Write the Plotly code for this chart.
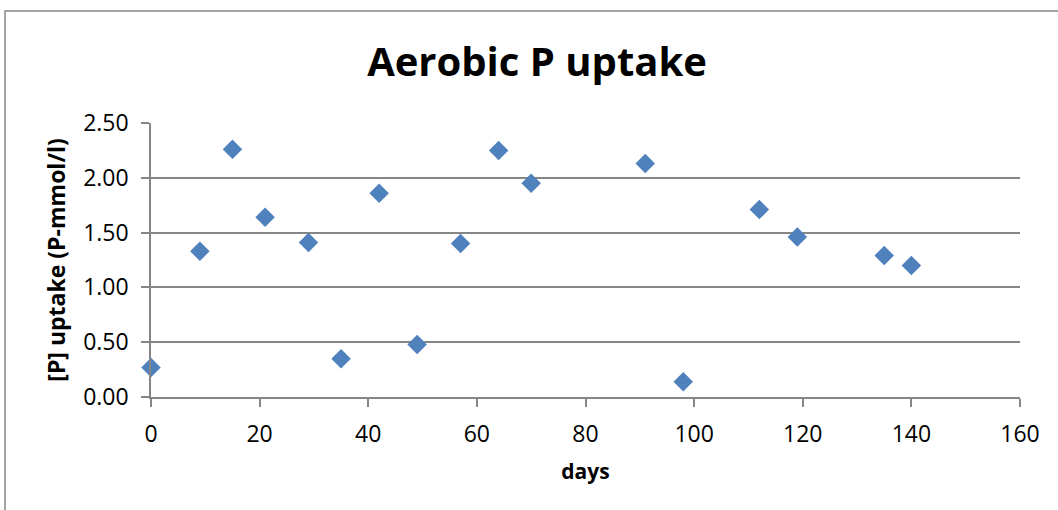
import plotly.graph_objects as go

days = [0, 9, 15, 21, 29, 35, 42, 49, 57, 64, 70, 91, 98, 112, 119, 135, 140]
uptake = [0.27, 1.33, 2.26, 1.64, 1.41, 0.35, 1.86, 0.48, 1.40, 2.25, 1.95, 2.13, 0.14, 1.71, 1.46, 1.29, 1.20]

x_ticks = [0, 20, 40, 60, 80, 100, 120, 140, 160]
y_ticks = [0.0, 0.5, 1.0, 1.5, 2.0, 2.5]

W, H = 1058, 510
L, R, T, B = 151, 38, 123, 113
pw, ph = W - L - R, H - T - B

fig = go.Figure(go.Scatter(
    x=days, y=uptake, mode="markers", cliponaxis=False,
    marker=dict(symbol="diamond", size=15, color="#4F81BD", line=dict(width=0)),
    showlegend=False,
))

font_family = "Open Sans, Liberation Sans, sans-serif"

fig.update_layout(
    width=W, height=H,
    margin=dict(l=L, r=R, t=T, b=B),
    paper_bgcolor="white", plot_bgcolor="white",
    font=dict(family=font_family, color="black"),
    title=dict(text="<b>Aerobic P uptake</b>", x=537 / W, xanchor="center",
               y=1 - 62 / H, yanchor="middle", font=dict(size=40, color="black")),
    xaxis=dict(range=[0, 160], tickvals=x_ticks, ticktext=[str(v) for v in x_ticks],
               showgrid=False, zeroline=False, showline=True, linecolor="#868686", linewidth=1.5,
               ticks="outside", ticklen=8, tickcolor="#868686", tickwidth=1.5,
               tickfont=dict(size=23), ticklabelstandoff=8,
               title=dict(text="<b>days</b>", font=dict(size=21), standoff=16)),
    yaxis=dict(range=[0, 2.5], tickvals=y_ticks, ticktext=[f"{v:.2f}" for v in y_ticks],
               showgrid=True, gridcolor="#868686", gridwidth=1.5, zeroline=False,
               showline=True, linecolor="#868686", linewidth=1.5,
               ticks="outside", ticklen=8, tickcolor="#868686", tickwidth=1.5,
               tickfont=dict(size=23), ticklabelstandoff=8,
               title=dict(text="<b>[P] uptake (P-mmol/l)</b>", font=dict(size=23), standoff=11)),
)

# outer chart border (extends beyond the captured area on right/bottom)
fig.add_shape(type="rect", xref="paper", yref="paper",
              x0=(5 - L) / pw, x1=(W + 20 - L) / pw,
              y0=-(H + 20 - (T + ph)) / ph, y1=(T + ph - 11) / ph,
              line=dict(color="#868686", width=1.5), fillcolor="rgba(0,0,0,0)", layer="below")

fig.write_html("out.html")
